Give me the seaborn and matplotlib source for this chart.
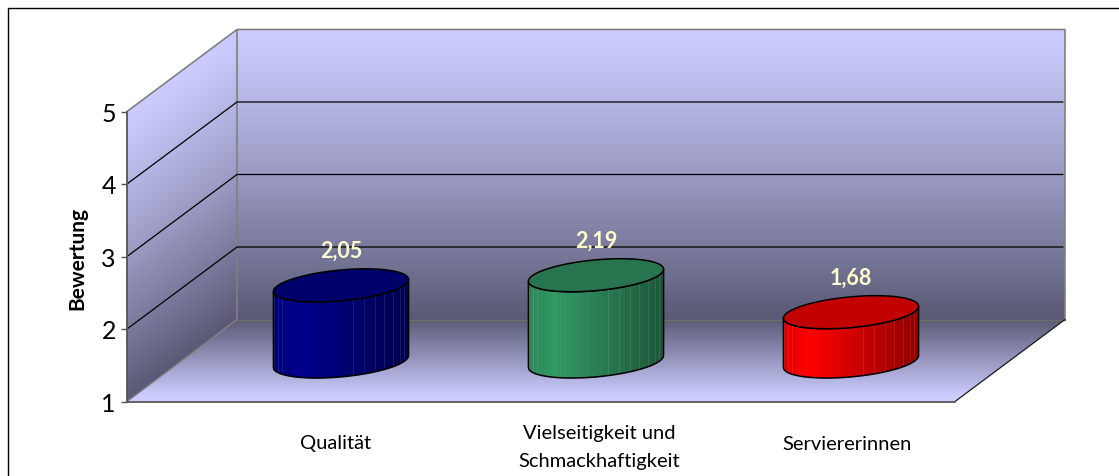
import numpy as np
import matplotlib
matplotlib.use("Agg")
import matplotlib.pyplot as plt
import seaborn as sns
from matplotlib.colors import to_rgb
from matplotlib.patches import Polygon
from matplotlib.transforms import Affine2D, ScaledTranslation

categories = ["Qualität", "Vielseitigkeit und\nSchmackhaftigkeit", "Serviererinnen"]
values = [2.05, 2.19, 1.68]
value_labels = ["2,05", "2,19", "1,68"]
y_ticks = [1, 2, 3, 4, 5]
bar_colors = ["#00008c", "#339966", "#ff0000"]
y_label = "Bewertung"

W, H = 1119, 477

sns.set_theme(style="white")
plt.rcParams["font.family"] = ["Lato", "DejaVu Sans"]

fig = plt.figure(figsize=(W / 100, H / 100), dpi=100, facecolor="white")

# backdrop in pixel coordinates: frame, walls and floor
bg = fig.add_axes([0, 0, 1, 1], zorder=0)
bg.set_xlim(0, W)
bg.set_ylim(H, 0)
bg.axis("off")

LEFT, RIGHT, FRONT_Y, TOP_Y = 127, 955, 402.5, 112.5
DX, DY = 110, 82
LIGHT = np.array(to_rgb("#ccccff"))
DARK = np.array(to_rgb("#5a5a76"))

px, py = np.meshgrid(np.arange(W) + 0.5, np.arange(H) + 0.5)


def fill_gradient(corners, u):
    u = np.clip(u, 0, 1)[..., None]
    img = LIGHT * (1 - u) + DARK * u
    im = bg.imshow(img, extent=(0, W, H, 0), aspect="auto", interpolation="bilinear")
    im.set_clip_path(Polygon(corners, transform=bg.transData))


def wall_ramp(y):
    # stays light a little while below the top edge
    return np.clip((y - 30) / (318 - 30), 0, 1) ** 1.2


back = [(LEFT + DX, TOP_Y - DY), (RIGHT + DX, TOP_Y - DY), (RIGHT + DX, FRONT_Y - DY), (LEFT + DX, FRONT_Y - DY)]
side = [(LEFT, TOP_Y), (LEFT + DX, TOP_Y - DY), (LEFT + DX, FRONT_Y - DY), (LEFT, FRONT_Y)]
floor = [(LEFT, FRONT_Y), (LEFT + DX, FRONT_Y - DY), (RIGHT + DX, FRONT_Y - DY), (RIGHT, FRONT_Y)]
fill_gradient(back, wall_ramp(py))
fill_gradient(side, wall_ramp(py + (px - LEFT - DX) * DY / DX))
fill_gradient(floor, (FRONT_Y - 6 - py) / (FRONT_Y - 6 - (FRONT_Y - DY)))
bg.set_xlim(0, W)
bg.set_ylim(H, 0)

GREY = "#808080"
bg.plot([LEFT, LEFT + DX, RIGHT + DX, RIGHT + DX], [TOP_Y, TOP_Y - DY, TOP_Y - DY, FRONT_Y - DY], color=GREY, lw=1.2)
bg.plot([LEFT + DX, LEFT + DX], [TOP_Y - DY, FRONT_Y - DY], color=GREY, lw=1.2)
bg.plot([LEFT, LEFT + DX], [FRONT_Y, FRONT_Y - DY], color=GREY, lw=1.0)
bg.plot([LEFT + DX, RIGHT + DX], [FRONT_Y - DY, FRONT_Y - DY], color="#6e6e62", lw=1.0)
bg.plot([RIGHT, RIGHT + DX], [FRONT_Y, FRONT_Y - DY], color="#1a1a1a", lw=0.9)
bg.plot([7.5, 7.5, W], [H, 8.5, 8.5], color="black", lw=1.0, clip_on=False)

# chart axes: front plane of the 3D box
ax = fig.add_axes([LEFT / W, 1 - FRONT_Y / H, (RIGHT - LEFT) / W, (FRONT_Y - TOP_Y) / H], zorder=1)
ax.patch.set_alpha(0)

sns.barplot(x=categories, y=values, hue=categories, palette=bar_colors, width=0.53,
            saturation=1, legend=False, ax=ax)

ax.set_ylim(y_ticks[0], y_ticks[-1])
unit_x = 255
ax.set_xlim((LEFT - 286) / unit_x, (RIGHT - 286) / unit_x)
unit_y = (FRONT_Y - TOP_Y) / (y_ticks[-1] - y_ticks[0])

# grid lines run over the side wall and along the back wall
for v in y_ticks[1:-1]:
    yy = FRONT_Y - (v - y_ticks[0]) * unit_y
    bg.plot([LEFT, LEFT + DX, RIGHT + DX - 2], [yy, yy - DY, yy - DY], color="black", lw=0.9)

# bars stand in the middle of the floor depth
shift = ax.transData + Affine2D().translate(55, 40)

TILT = 6 / unit_y
FLAT = 15.4 / unit_y
N_FACETS = 36


def shade(color, u):
    base = np.array(to_rgb(color))
    k = 0.87 + 0.13 * u / 0.2 if u < 0.2 else 1 - 0.45 * (u - 0.2) / 0.8
    return tuple(base * k)


rects = [c[0] for c in ax.containers]
for rect, value, label, color in zip(rects, values, value_labels, bar_colors):
    half = rect.get_width() / 2
    cx = rect.get_x() + half

    t = np.linspace(np.pi, 2 * np.pi, N_FACETS + 1)
    ex = cx + half * np.cos(t)
    ev = TILT * np.cos(t) + FLAT * np.sin(t)
    base_v = y_ticks[0] + ev
    top_v = value + ev

    outline = np.r_[np.c_[ex, base_v], np.c_[ex, top_v][::-1]]
    body = Polygon(outline, closed=True, transform=shift, clip_on=False,
                   facecolor="none", edgecolor="black", lw=1.1, zorder=5)
    ax.add_patch(body)

    rect.set_transform(shift)
    rect.set_clip_path(Polygon(outline, closed=True, transform=shift))
    rect.set_clip_box(None)
    rect.set_zorder(2)

    for k in range(N_FACETS):
        u = (ex[k] + ex[k + 1]) / 2
        u = (u - (cx - half)) / (2 * half)
        quad = [(ex[k], base_v[k]), (ex[k + 1], base_v[k + 1]), (ex[k + 1], top_v[k + 1]), (ex[k], top_v[k])]
        ax.add_patch(Polygon(quad, closed=True, transform=shift, clip_on=False, zorder=3,
                             facecolor=shade(color, u), edgecolor=shade(color, u), lw=0.3))
        if (u > 0.6 or u < 0.1) and k % 2 == 0:
            ax.plot([ex[k], ex[k]], [base_v[k], top_v[k]], transform=shift, clip_on=False, zorder=4,
                    color="white", alpha=0.1, lw=0.7)

    # top lid
    tt = np.linspace(0, 2 * np.pi, 2 * N_FACETS + 1)
    lid = np.c_[cx + half * np.cos(tt), value + TILT * np.cos(tt) + FLAT * np.sin(tt)]
    lid_color = tuple(np.array(to_rgb(color)) * 0.76)
    ax.add_patch(Polygon(lid, closed=True, transform=shift, clip_on=False, zorder=6,
                         facecolor=lid_color, edgecolor="black", lw=1.1))

    ax.annotate(label, xy=(cx, value), xycoords=shift, xytext=(0, 25), textcoords="offset points",
                ha="center", va="center", color="#ffffcc", fontsize=15.5, fontweight="bold",
                zorder=7, annotation_clip=False)

# axes and labels
sns.despine(ax=ax, top=True, right=True)
ax.spines["left"].set_color("#555555")
ax.spines["left"].set_linewidth(1.3)
ax.spines["bottom"].set_color("#555555")
ax.spines["bottom"].set_linewidth(1.3)
ax.set_yticks(y_ticks)
ax.set_yticklabels([str(v) for v in y_ticks])
ax.tick_params(axis="y", left=True, length=4, width=1, color="#555555", pad=4, labelsize=18, labelcolor="black")
ax.set_ylabel(y_label, fontsize=15, fontweight="bold", color="black")
ax.yaxis.set_label_coords((87 - LEFT) / (RIGHT - LEFT), (FRONT_Y - 259) / (FRONT_Y - TOP_Y))

ax.set_xticks(range(len(categories)))
ax.set_xticklabels(categories)
ax.tick_params(axis="x", bottom=False, pad=31, labelsize=14.5, labelcolor="black")
label_dx = [50, 58, 51]
label_dy = [10, 6.5, 9]
for tick_label, dx, dy in zip(ax.get_xticklabels(), label_dx, label_dy):
    tick_label.set_va("center")
    tick_label.set_linespacing(1.75)
    tick_label.set_transform(tick_label.get_transform() + ScaledTranslation(dx / 100, dy / 100, fig.dpi_scale_trans))

fig.savefig("out.png", dpi=100)
